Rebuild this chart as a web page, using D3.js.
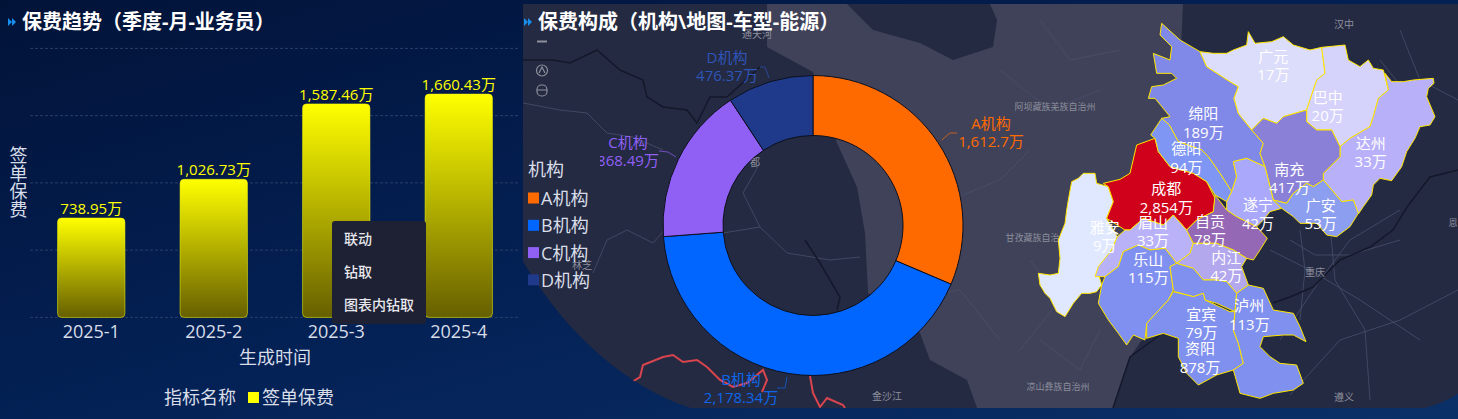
<!DOCTYPE html>
<html>
<head>
<meta charset="utf-8">
<script src="https://cdn.jsdelivr.net/npm/d3@7"></script>
<style>
html, body { margin: 0; padding: 0; background: #021640; overflow: hidden; }
svg { display: block; }
text { font-family: "Open Sans", "Noto Sans CJK SC", sans-serif; }
</style>
</head>
<body>
<svg width="1458" height="419"></svg>
<script>
// bar chart
const months = ["2025-1", "2025-2", "2025-3", "2025-4"];
const premium = [738.95, 1026.73, 1587.46, 1660.43];
const premiumTicks = [0, 500, 1000, 1500, 2000];
const menuItems = ["联动", "钻取", "图表内钻取"];

// donut
const orgs = ["A机构", "B机构", "C机构", "D机构"];
const orgValues = [1612.7, 2178.34, 868.49, 476.37];
const orgLabels = ["1,612.7万", "2,178.34万", "868.49万", "476.37万"];
const orgColors = ["#ff6a00", "#0066ff", "#9060f5", "#1f3a8a"];
const orgTextColors = ["#ff6a00", "#0f66e8", "#9060f5", "#2f55b8"];
const orgLabelX = [991, 741, 628, 727];
const orgLabelY = [132, 388, 151, 66];

// map, outlines in a 1284x1227 grid
const cityNames = ["广元", "巴中", "绵阳", "达州", "德阳", "南充", "成都", "遂宁", "广安", "雅安", "眉山", "自贡", "内江", "乐山", "泸州", "宜宾", "资阳"];
const cityValues = ["17万", "20万", "189万", "33万", "94万", "417万", "2,854万", "42万", "53万", "9万", "33万", "78万", "42万", "115万", "113万", "79万", "878万"];
const cityLabelX = [730, 893, 520, 1022, 469, 778, 409, 684, 872, 224, 369, 540, 589, 355, 658, 514, 510];
const cityLabelY = [137, 260, 310, 398, 415, 477, 535, 583, 585, 650, 635, 632, 741, 746, 886, 911, 1015];

const shapeColors = ["#e0e8ff", "#d0021b", "#b9b2f8", "#7f90f0", "#9468b4", "#b3a8ee", "#8090ee", "#8090ee", "#8090ee",
    "#8088e8", "#7f96f5", "#dcdcfb", "#d5d2fb", "#b9b0fa", "#8a80d8", "#a9a8fb", "#8c9ef0"];
const shapes = [
    [[125,515],[145,505],[160,490],[195,490],[200,520],[235,530],[250,575],[230,625],[262,680],[245,720],[215,770],[205,790],[215,825],[200,845],[180,850],[155,850],[130,880],[105,920],[80,905],[60,865],[45,850],[30,825],[25,790],[60,795],[85,790],[90,745],[85,690],[105,640],[110,600],[115,570]],
    [[220,520],[270,508],[300,490],[320,405],[375,385],[385,425],[420,470],[490,490],[530,515],[555,565],[550,605],[500,630],[470,660],[430,615],[400,645],[340,625],[300,660],[285,660],[230,625],[250,575],[235,530]],
    [[285,660],[300,660],[340,625],[400,645],[430,615],[470,660],[490,700],[480,730],[440,760],[405,715],[360,720],[325,705],[280,725],[265,770],[225,800],[195,800],[205,770],[245,720],[262,680]],
    [[280,725],[325,705],[360,720],[405,715],[440,760],[420,770],[430,840],[415,870],[350,940],[345,990],[310,975],[290,1005],[265,970],[235,930],[205,880],[215,825],[225,800],[265,770]],
    [[555,555],[590,600],[620,620],[680,650],[712,685],[690,720],[670,750],[650,745],[610,720],[560,700],[490,700],[470,660],[500,630],[550,605]],
    [[490,700],[560,700],[610,720],[650,745],[635,770],[655,825],[620,850],[590,815],[560,810],[520,810],[490,775],[440,760],[480,730]],
    [[420,770],[440,760],[490,775],[520,810],[560,810],[590,815],[620,850],[615,905],[560,880],[525,870],[520,850],[490,860],[435,845],[430,840]],
    [[430,845],[490,860],[520,850],[525,870],[600,905],[615,905],[610,960],[625,1000],[640,1060],[610,1080],[560,1095],[505,1125],[470,1090],[445,1040],[445,985],[400,970],[350,985],[350,940],[415,870]],
    [[620,850],[655,825],[700,835],[730,900],[790,910],[810,950],[828,995],[790,975],[760,975],[700,980],[690,1010],[720,1040],[750,1060],[800,1065],[820,1120],[790,1140],[730,1150],[690,1165],[630,1150],[610,1080],[640,1060],[625,1000],[610,960],[615,905]],
    [[395,40],[450,90],[510,125],[530,170],[600,215],[625,230],[612,265],[625,310],[665,360],[700,400],[690,430],[705,470],[650,445],[610,455],[620,500],[605,545],[570,490],[535,440],[515,420],[445,395],[418,345],[395,325],[420,320],[375,265],[355,265],[365,230],[400,225],[440,205],[425,190],[380,190],[370,130],[420,150],[425,110],[390,75]],
    [[362,375],[395,325],[418,345],[445,395],[515,420],[535,440],[570,490],[605,545],[590,575],[555,555],[530,515],[490,490],[420,470],[385,425],[375,385]],
    [[510,125],[550,130],[590,130],[610,120],[650,105],[655,65],[675,100],[725,95],[760,80],[790,105],[840,120],[875,112],[885,190],[860,210],[830,300],[760,320],[740,340],[700,325],[665,360],[625,310],[612,265],[625,230],[600,215],[530,170]],
    [[875,112],[945,105],[955,150],[990,170],[1015,150],[1030,175],[1060,180],[1075,240],[1045,265],[1030,320],[1020,350],[960,385],[930,410],[905,360],[860,360],[830,335],[830,300],[860,210],[885,190]],
    [[1065,190],[1085,215],[1120,215],[1150,210],[1210,205],[1212,220],[1195,235],[1190,260],[1215,320],[1200,345],[1170,350],[1155,385],[1130,425],[1115,470],[1085,512],[1050,505],[1030,525],[1025,555],[1000,590],[985,612],[970,570],[935,575],[880,510],[880,490],[930,440],[930,410],[960,385],[1020,350],[1030,320],[1045,265],[1075,240]],
    [[665,360],[700,325],[740,340],[760,320],[830,300],[830,335],[860,360],[905,360],[930,410],[930,440],[880,490],[880,510],[850,530],[830,520],[790,550],[770,580],[730,570],[720,530],[705,470],[690,430],[700,400]],
    [[610,455],[650,445],[705,470],[720,530],[730,570],[755,595],[720,605],[700,630],[680,650],[620,620],[590,600],[590,575],[605,545],[620,500]],
    [[880,510],[935,575],[970,570],[985,610],[960,650],[920,680],[890,675],[860,640],[810,640],[790,620],[755,595],[730,570],[770,580],[790,550],[830,520],[850,530]]
];

// base map scenery, page pixels
const plateau = [[767,4],[767,47],[813,72],[837,143],[857,187],[865,233],[868,293],[920,333],[930,360],[967,380],[977,408],[1113,408],[1130,357],[1170,300],[1183,4]];
const darkPatch = [[847,4],[873,30],[920,43],[953,60],[993,47],[997,20],[990,4]];
const border = [[627,385],[640,377],[643,365],[663,357],[673,355],[683,362],[697,360],[707,367],[720,380],[733,387],[747,383],[763,370],[767,380],[762,392]];
const border2 = [[810,376],[813,393],[820,407],[827,398],[843,405],[845,408]];
const rivers = [[[1113,408],[1130,357],[1160,335]], [[1458,170],[1430,177],[1407,207],[1393,230],[1370,247],[1340,260],[1313,287],[1290,297],[1273,303]], [[805,240],[820,263],[840,297],[837,310]],
    [[523,60],[553,60],[570,63],[597,50],[620,70],[643,80],[647,97],[663,107],[687,110],[697,123],[710,97],[727,97],[760,67]]];
const roads = [[[1270,250],[1310,270],[1360,300],[1420,340]], [[1280,340],[1320,280],[1350,240],[1400,210]], [[1290,395],[1340,340],[1400,320],[1458,290]],
    [[1290,240],[1315,255],[1350,255],[1400,240]], [[1300,230],[1305,270],[1300,320]], [[1330,225],[1335,280],[1365,330],[1370,400]], [[1400,30],[1420,80],[1458,100]], [[1380,60],[1420,110],[1400,170]],
    [[523,103],[560,110],[587,113],[607,133],[633,137],[663,150]], [[593,273],[607,240],[627,230],[653,243],[667,227]],
    [[723,233],[760,227],[743,193],[760,163]], [[760,227],[787,253],[830,260],[860,257]],
    [[950,200],[1000,180],[1030,150]], [[900,300],[960,290],[1000,340]], [[1000,70],[1050,110],[1100,90]], [[1040,20],[1070,60],[1120,50]], [[1030,260],[1060,300],[1020,350]], [[1040,340],[1080,370],[1100,330]]];
const placeNames = ["通天河", "林芝", "都", "金沙江", "汉中", "重庆", "遵义", "阿坝藏族羌族自治州", "甘孜藏族自治州", "凉山彝族自治州", "恩"];
const placeX = [757, 582, 755, 887, 1344, 1315, 1344, 1055, 1037, 1058, 1453];
const placeY = [34, 265, 162, 396, 24, 272, 397, 106, 237, 386, 222];

let svg = d3.select("svg");
let defs = svg.append("defs");

function addGradient(id, x2, y2, stops) {
    let g = defs.append("linearGradient").attr("id", id)
        .attr("x1", 0).attr("y1", 0).attr("x2", x2).attr("y2", y2);
    stops.forEach(s => g.append("stop").attr("offset", s[0]).attr("stop-color", s[1]));
}
addGradient("page", 1, 1, [[0, "#021338"], [0.45, "#031f52"], [1, "#0a3068"]]);
addGradient("barFill", 0, 1, [[0, "#ffff00"], [1, "#665f00"]]);
defs.append("clipPath").attr("id", "panelClip").append("path").attr("d", panelPath());
defs.append("clipPath").attr("id", "cLabel").append("rect")
    .attr("x", 600).attr("y", 0).attr("width", 400).attr("height", 419);

svg.append("rect").attr("width", 1458).attr("height", 419).attr("fill", "url(#page)");

function panelPath() {
    return "M523,4 L1458,4 L1458,394 Q1440,405 1425,408 L690,408 C630,388 570,340 523,262 Z";
}

function drawBase() {
    let g = svg.append("g").attr("clip-path", "url(#panelClip)");
    let line = d3.line();
    g.append("path").attr("d", panelPath()).attr("fill", "#242a42");
    g.append("path").attr("d", line(plateau) + "Z").attr("fill", "#3f4259");
    g.append("path").attr("d", line(darkPatch) + "Z").attr("fill", "#242a42");
    g.selectAll(".road").data(roads).enter().append("path").attr("class", "road")
        .attr("d", line).attr("fill", "none").attr("stroke", "#4a4f6b").attr("stroke-width", 0.8);
    g.selectAll(".river").data(rivers).enter().append("path").attr("class", "river")
        .attr("d", line).attr("fill", "none").attr("stroke", "#14182b").attr("stroke-width", 1.5);
    g.selectAll(".border").data([border, border2]).enter().append("path").attr("class", "border")
        .attr("d", line).attr("fill", "none").attr("stroke", "#d9444f").attr("stroke-width", 2);
    g.selectAll(".place").data(placeNames).enter().append("text").attr("class", "place")
        .attr("x", (d, i) => placeX[i]).attr("y", (d, i) => placeY[i])
        .attr("text-anchor", "middle").attr("dominant-baseline", "central")
        .attr("font-size", (d, i) => i < 7 ? 10 : 9).attr("fill", "#8d8f9c").text(d => d);
    // map controls
    let c = g.append("g").attr("stroke", "#8d8f9c").attr("fill", "none").attr("stroke-width", 1.2);
    c.append("line").attr("x1", 537).attr("x2", 547).attr("y1", 41.5).attr("y2", 41.5).attr("stroke-width", 2);
    c.append("circle").attr("cx", 542).attr("cy", 70.5).attr("r", 5.5);
    c.append("path").attr("d", "M539,73 L542,67 L545,73");
    c.append("rect").attr("x", 537).attr("y", 85).attr("width", 10).attr("height", 11).attr("rx", 4.5);
    c.append("line").attr("x1", 537).attr("x2", 547).attr("y1", 90).attr("y2", 90);
}

function drawTitle(text, x) {
    svg.append("path").attr("d", `M${x - 14},18 l4,4 l-4,4 Z M${x - 10},18 l4,4 l-4,4 Z`).attr("fill", "#1590f0");
    svg.append("text").attr("x", x).attr("y", 21).attr("dominant-baseline", "central")
        .attr("font-size", 20).attr("font-weight", 700).attr("fill", "#fff").text(text);
}

function drawBars() {
    let scaleX = d3.scaleBand().domain(months).range([30, 520]).paddingInner(0.45).paddingOuter(0.225);
    let scaleY = d3.scaleLinear().domain([0, 2000]).range([317.4, 48.4]);

    svg.selectAll(".grid").data(premiumTicks).enter().append("line").attr("class", "grid")
        .attr("x1", 30).attr("x2", 520).attr("y1", d => scaleY(d)).attr("y2", d => scaleY(d))
        .attr("stroke", "#2a3f66").attr("stroke-dasharray", "3,2");

    svg.selectAll(".bar").data(premium).enter().append("rect").attr("class", "bar")
        .attr("x", (d, i) => scaleX(months[i])).attr("width", scaleX.bandwidth())
        .attr("y", d => scaleY(d)).attr("height", d => scaleY(0) - scaleY(d))
        .attr("rx", 4).attr("fill", "url(#barFill)")
        .attr("stroke", "#ffff00").attr("stroke-opacity", 0.5);

    svg.selectAll(".barLabel").data(premium).enter().append("text").attr("class", "barLabel")
        .attr("x", (d, i) => scaleX(months[i]) + scaleX.bandwidth() / 2).attr("y", d => scaleY(d) - 4)
        .attr("text-anchor", "middle").attr("font-size", 15).attr("fill", "#ffff00")
        .text(d => d3.format(",.2f")(d) + "万");

    let axis = d3.axisBottom(scaleX).tickSize(0).tickPadding(8);
    let ax = svg.append("g").attr("transform", "translate(0,317.4)").call(axis);
    ax.select(".domain").remove();
    ax.selectAll("text").attr("font-size", 18).attr("fill", "#d8dde8")
        .style("font-family", "\"Open Sans\", \"Noto Sans CJK SC\", sans-serif");

    svg.append("text").attr("x", 275).attr("y", 357).attr("text-anchor", "middle")
        .attr("dominant-baseline", "central").attr("font-size", 18).attr("fill", "#d8dde8").text("生成时间");
    Array.from("签单保费").forEach((ch, i) => {
        svg.append("text").attr("x", 18.5).attr("y", 155 + i * 18).attr("text-anchor", "middle")
            .attr("dominant-baseline", "central").attr("font-size", 18).attr("fill", "#d8dde8").text(ch);
    });

    // legend
    svg.append("text").attr("x", 164).attr("y", 397).attr("dominant-baseline", "central")
        .attr("font-size", 18).attr("fill", "#d8dde8").text("指标名称");
    svg.append("rect").attr("x", 248).attr("y", 392).attr("width", 11).attr("height", 11).attr("fill", "#ffff00");
    svg.append("text").attr("x", 262).attr("y", 397).attr("dominant-baseline", "central")
        .attr("font-size", 18).attr("fill", "#d8dde8").text("签单保费");

    // right click menu
    svg.append("rect").attr("x", 332).attr("y", 221).attr("width", 94).attr("height", 103)
        .attr("rx", 3).attr("fill", "#1e2133");
    svg.selectAll(".menu").data(menuItems).enter().append("text").attr("class", "menu")
        .attr("x", 344).attr("y", (d, i) => 238 + i * 33).attr("dominant-baseline", "central")
        .attr("font-size", 14).attr("font-weight", 500).attr("fill", "#e8e8ee").text(d => d);
}

function drawDonut() {
    let g = svg.append("g").attr("transform", "translate(813,225.5)");
    let pie = d3.pie().sort(null);
    let arc = d3.arc().innerRadius(90).outerRadius(150);
    g.selectAll(".slice").data(pie(orgValues)).enter().append("path").attr("class", "slice")
        .attr("d", arc).attr("fill", (d, i) => orgColors[i])
        .attr("stroke", "#0c0f1c").attr("stroke-width", 1);

    // leader lines
    let leaders = [[[941.7,140],[950,133],[957,133]], [[787,377],[785,388],[777,388]], [[659,151],[668,152],[676,157]], [[760,67],[765,67],[769,78]]];
    svg.selectAll(".leader").data(leaders).enter().append("path").attr("class", "leader")
        .attr("d", d3.line()).attr("fill", "none").attr("stroke-width", 0.7)
        .attr("stroke", (d, i) => orgTextColors[i]);

    // slice labels, the C one is cut by the chart box in the original
    let labels = svg.append("g");
    orgs.forEach((name, i) => {
        let t = labels.append("g").attr("clip-path", i === 2 ? "url(#cLabel)" : null);
        t.append("text").attr("x", orgLabelX[i]).attr("y", orgLabelY[i] - 9).attr("text-anchor", "middle")
            .attr("dominant-baseline", "central").attr("font-size", 15).attr("fill", orgTextColors[i]).text(name);
        t.append("text").attr("x", orgLabelX[i]).attr("y", orgLabelY[i] + 9).attr("text-anchor", "middle")
            .attr("dominant-baseline", "central").attr("font-size", 15).attr("fill", orgTextColors[i]).text(orgLabels[i]);
    });

    // legend
    svg.append("text").attr("x", 528).attr("y", 169).attr("dominant-baseline", "central")
        .attr("font-size", 18).attr("fill", "#d8dde8").text("机构");
    svg.selectAll(".legSwatch").data(orgs).enter().append("rect").attr("class", "legSwatch")
        .attr("x", 528).attr("y", (d, i) => 192.5 + i * 27.3).attr("width", 11).attr("height", 11)
        .attr("fill", (d, i) => orgColors[i]);
    svg.selectAll(".legText").data(orgs).enter().append("text").attr("class", "legText")
        .attr("x", 541).attr("y", (d, i) => 198 + i * 27.3).attr("dominant-baseline", "central")
        .attr("font-size", 18).attr("fill", "#d8dde8").text(d => d);
}

function drawMap() {
    let mapX = d3.scaleLinear().domain([0, 1284]).range([1030, 1458]);
    let mapY = d3.scaleLinear().domain([0, 1227]).range([10, 419]);
    let line = d3.line().x(p => mapX(p[0])).y(p => mapY(p[1]));
    svg.selectAll(".city").data(shapes).enter().append("path").attr("class", "city")
        .attr("d", d => line(d) + "Z").attr("fill", (d, i) => shapeColors[i])
        .attr("stroke", "#ffe600").attr("stroke-width", 1).attr("stroke-linejoin", "round");
    svg.selectAll(".cityName").data(cityNames).enter().append("text").attr("class", "cityName")
        .attr("x", (d, i) => mapX(cityLabelX[i])).attr("y", (d, i) => mapY(cityLabelY[i]))
        .attr("text-anchor", "middle").attr("dominant-baseline", "central")
        .attr("font-size", 15).attr("fill", "#fff").text(d => d);
    svg.selectAll(".cityValue").data(cityValues).enter().append("text").attr("class", "cityValue")
        .attr("x", (d, i) => mapX(cityLabelX[i])).attr("y", (d, i) => mapY(cityLabelY[i] + 55))
        .attr("text-anchor", "middle").attr("dominant-baseline", "central")
        .attr("font-size", 15).attr("fill", "#fff").text(d => d);
}

drawBase();
drawTitle("保费趋势（季度-月-业务员）", 22);
drawBars();
drawMap();
drawDonut();
drawTitle("保费构成（机构\\地图-车型-能源）", 538);
</script>
</body>
</html>
